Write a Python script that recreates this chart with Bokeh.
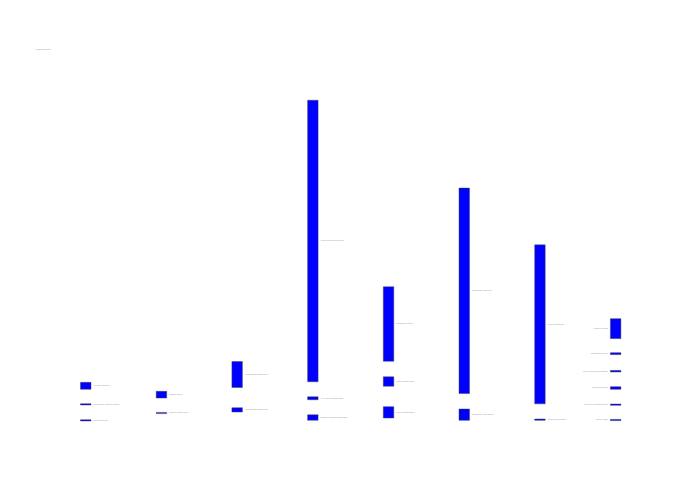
from bokeh.plotting import figure
from bokeh.models import Range1d, ColumnDataSource
from bokeh.core.properties import value
from bokeh.embed import file_html
from bokeh.resources import INLINE

# ---- data (node values per column, units) ----
title_text = "Flow overview"
col_labels = [
    ["Primary source", "Secondary source group", "Other source"],
    ["Intake north", "Intake south side"],
    ["Processing stage one", "Processing stage two"],
    ["Main distribution hub", "Auxiliary distribution", "Reserve distribution pool"],
    ["Regional centre", "Local depot east", "Local depot west"],
    ["Consumer market", "Industrial end users"],
    ["Final allocation", "Residual transfer"],
    ["Retail outlets", "Commercial use", "Public services network", "Transport fleet", "Agricultural operations", "Other uses"],
]
col_values = [
    [14, 2.6, 2.6],
    [13.4, 2.4],
    [52, 8.6],
    [563, 6, 11],
    [149, 19, 22.6],
    [411, 22.6],
    [318, 2.6],
    [39.8, 3.8, 3.2, 5.2, 2.6, 2.4],
]

# ---- layout (sankey node placement, screen units) ----
node_centers = [
    [385.35, 403.85, 419.85],
    [394.2, 412.5],
    [374.0, 409.35],
    [240.5, 397.75, 417.0],
    [323.5, 381.0, 411.85],
    [290.3, 414.15],
    [323.85, 419.15],
    [328.15, 353.15, 370.7, 387.5, 404.15, 419.5],
]
x0, dx, nw = 80.0, 75.7, 10.5
px_per_unit = 0.5

left, right, top, bottom = [], [], [], []
lx, ly, lt, la = [], [], [], []
ncol = len(col_values)
for i, (vals, cents, labs) in enumerate(zip(col_values, node_centers, col_labels)):
    xl = x0 + i * dx
    for v, c, t in zip(vals, cents, labs):
        h = v * px_per_unit
        left.append(xl); right.append(xl + nw)
        top.append(c - h / 2); bottom.append(c + h / 2)
        if i == ncol - 1:
            lx.append(xl - 2.5); la.append("right")
        else:
            lx.append(xl + nw + 2.5); la.append("left")
        ly.append(c); lt.append(t)

nodes = ColumnDataSource(dict(left=left, right=right, top=top, bottom=bottom))
labels = ColumnDataSource(dict(x=lx, y=ly, text=lt, align=la))

p = figure(width=684, height=484, output_backend="svg", toolbar_location=None,
           x_range=Range1d(0, 684), y_range=Range1d(484, 0),
           min_border=0, min_border_left=0, min_border_right=0,
           min_border_top=0, min_border_bottom=0)
p.axis.visible = False
p.grid.visible = False
p.outline_line_color = None
p.background_fill_color = "white"
p.border_fill_color = "white"

p.quad(left="left", right="right", top="top", bottom="bottom", source=nodes,
       fill_color="#0000ff", line_color="#444444", line_width=0.5, line_alpha=0.9)

p.text(x="x", y="y", text="text", source=labels, text_align="align",
       text_baseline="middle", text_font=value("Open Sans"),
       text_font_size="2.3px", text_color="#8e97ab")

p.text(x=[35], y=[49], text=[title_text], text_align="left", text_baseline="middle",
       text_font=value("Open Sans"), text_font_size="2.3px", text_color="#8e97ab")

open("out.html", "w").write(file_html(p, INLINE))
